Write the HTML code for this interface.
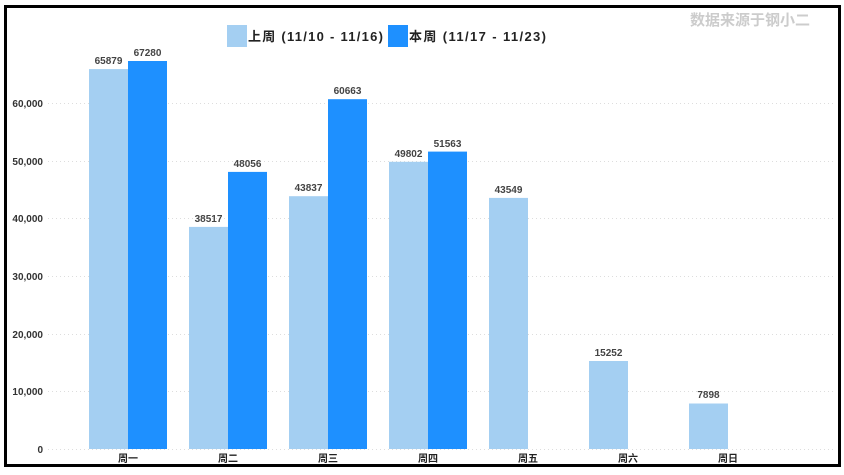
<!DOCTYPE html>
<html><head><meta charset="utf-8"><style>
html,body{margin:0;padding:0;background:#fff}
svg{display:block}
text{font-family:"Liberation Sans","Noto Sans CJK SC",sans-serif}
</style></head><body>
<svg width="844" height="475" xmlns="http://www.w3.org/2000/svg">
<rect x="0" y="0" width="844" height="475" fill="#fff"/>
<rect x="5.5" y="6.5" width="834" height="459" fill="none" stroke="#000" stroke-width="3"/>
<g stroke="#ddd" stroke-dasharray="1,3" stroke-width="1">
<line x1="48" x2="835" y1="449.5" y2="449.5"/>
<line x1="48" x2="835" y1="391.5" y2="391.5"/>
<line x1="48" x2="835" y1="334.5" y2="334.5"/>
<line x1="48" x2="835" y1="276.5" y2="276.5"/>
<line x1="48" x2="835" y1="218.5" y2="218.5"/>
<line x1="48" x2="835" y1="161.5" y2="161.5"/>
<line x1="48" x2="835" y1="103.5" y2="103.5"/>
</g>
<g font-size="10" font-weight="bold" fill="#333" text-anchor="end">
<text x="43" y="453">0</text>
<text x="43" y="395">10,000</text>
<text x="43" y="338">20,000</text>
<text x="43" y="280">30,000</text>
<text x="43" y="222">40,000</text>
<text x="43" y="165">50,000</text>
<text x="43" y="107">60,000</text>
</g>
<g fill="#a4cff2">
<rect x="89" y="69.1" width="39" height="379.9"/>
<rect x="189" y="226.9" width="39" height="222.1"/>
<rect x="289" y="196.2" width="39" height="252.8"/>
<rect x="389" y="161.8" width="39" height="287.2"/>
<rect x="489" y="197.9" width="39" height="251.1"/>
<rect x="589" y="361" width="39" height="88"/>
<rect x="689" y="403.5" width="39" height="45.5"/>
</g>
<g fill="#1e90ff">
<rect x="128" y="61" width="39" height="388"/>
<rect x="228" y="171.9" width="39" height="277.1"/>
<rect x="328" y="99.2" width="39" height="349.8"/>
<rect x="428" y="151.6" width="39" height="297.4"/>
</g>
<g font-size="10" font-weight="bold" fill="#444" text-anchor="middle">
<text x="108.5" y="64">65879</text>
<text x="147.5" y="56">67280</text>
<text x="208.5" y="222">38517</text>
<text x="247.5" y="167">48056</text>
<text x="308.5" y="191">43837</text>
<text x="347.5" y="94">60663</text>
<text x="408.5" y="157">49802</text>
<text x="447.5" y="147">51563</text>
<text x="508.5" y="193">43549</text>
<text x="608.5" y="356">15252</text>
<text x="708.5" y="398">7898</text>
</g>
<g font-size="10" font-weight="bold" fill="#222" text-anchor="middle">
<text x="128" y="462">周一</text>
<text x="228" y="462">周二</text>
<text x="328" y="462">周三</text>
<text x="428" y="462">周四</text>
<text x="528" y="462">周五</text>
<text x="628" y="462">周六</text>
<text x="728" y="462">周日</text>
</g>
<rect x="227" y="25" width="20" height="22" fill="#a4cff2"/>
<text x="248" y="41" font-size="13" font-weight="bold" fill="#222" textLength="135" lengthAdjust="spacing">上周 (11/10 - 11/16)</text>
<rect x="388" y="25" width="20" height="22" fill="#1e90ff"/>
<text x="409" y="41" font-size="13" font-weight="bold" fill="#222" textLength="137" lengthAdjust="spacing">本周 (11/17 - 11/23)</text>
<text x="810" y="25" font-size="15" font-weight="bold" fill="#ccc" text-anchor="end">数据来源于钢小二</text>
</svg>
</body></html>
